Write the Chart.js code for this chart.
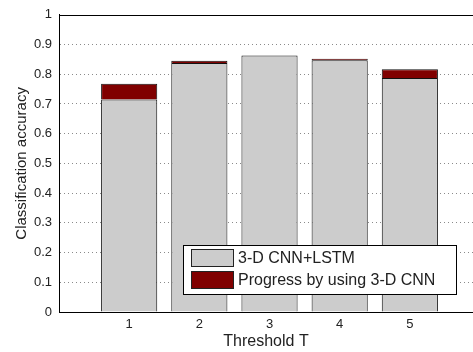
<!DOCTYPE html>
<html>
<head>
<meta charset="utf-8">
<script src="https://cdn.jsdelivr.net/npm/chart.js@4"></script>
<style>
html,body{margin:0;padding:0;background:#fff;}
#wrap{width:473px;height:352px;}
</style>
</head>
<body>
<div id="wrap"><canvas id="c" width="473" height="352"></canvas></div>
<script>
const thresholds = [1, 2, 3, 4, 5];
const baseAccuracy = [0.715, 0.838, 0.863, 0.847, 0.787];
const progress = [0.053, 0.007, 0, 0.005, 0.030];
const yTicks = [0, 0.1, 0.2, 0.3, 0.4, 0.5, 0.6, 0.7, 0.8, 0.9, 1];
const seriesLabels = ['3-D CNN+LSTM', 'Progress by using 3-D CNN'];
const seriesColors = ['#cccccc', '#800000'];

const FONT = '"Liberation Sans", Arial, Helvetica, sans-serif';

const frame = {
  id: 'frame',
  afterDraw(chart) {
    const ctx = chart.ctx, a = chart.chartArea;
    ctx.save();
    ctx.strokeStyle = '#000';
    ctx.lineWidth = 1;
    ctx.beginPath();
    ctx.moveTo(a.left, Math.round(a.top) + 0.5);
    ctx.lineTo(chart.width, Math.round(a.top) + 0.5);
    ctx.stroke();
    // legend
    const lx = 183.5, ly = 245.5, lw = 273, lh = 49;
    ctx.fillStyle = '#fff';
    ctx.fillRect(lx, ly, lw, lh);
    ctx.strokeRect(lx, ly, lw, lh);
    ctx.font = '16px ' + FONT;
    ctx.textBaseline = 'middle';
    ctx.textAlign = 'left';
    chart.data.datasets.forEach((ds, i) => {
      const sy = 249.5 + i * 22;
      ctx.fillStyle = ds.backgroundColor;
      ctx.fillRect(191.5, sy, 42, 17);
      ctx.strokeStyle = '#222';
      ctx.strokeRect(191.5, sy, 42, 17);
      ctx.fillStyle = '#222';
      ctx.fillText(ds.label, 238, sy + 9);
    });
    ctx.restore();
  }
};

new Chart(document.getElementById('c'), {
  type: 'bar',
  data: {
    datasets: [
      {
        label: seriesLabels[0],
        data: thresholds.map((t, i) => ({x: t, y: baseAccuracy[i]})),
        backgroundColor: seriesColors[0],
        borderColor: '#111',
        borderWidth: 1
      },
      {
        label: seriesLabels[1],
        data: thresholds.map((t, i) => ({x: t, y: progress[i]})),
        backgroundColor: seriesColors[1],
        borderColor: '#111',
        borderWidth: 1
      }
    ]
  },
  options: {
    responsive: false,
    animation: false,
    events: [],
    layout: {padding: {top: 11, left: 0, right: 0, bottom: 0}},
    datasets: {bar: {barPercentage: 1, categoryPercentage: 0.8}},
    plugins: {legend: {display: false}, tooltip: {enabled: false}},
    scales: {
      x: {
        type: 'linear',
        stacked: true,
        offset: false,
        min: 0,
        max: 5.9,
        afterBuildTicks(scale) { scale.ticks = thresholds.map(v => ({value: v})); },
        afterFit(scale) { scale.height = 40; },
        grid: {display: false, drawTicks: false, offset: false},
        border: {display: true, color: '#000', width: 1},
        ticks: {color: '#222', font: {family: FONT, size: 13}, padding: 5, maxRotation: 0,
          callback: v => String(v)},
        title: {display: true, text: 'Threshold T', color: '#222', font: {family: FONT, size: 16},
          padding: {top: 0, bottom: 1}}
      },
      y: {
        stacked: true,
        min: 0,
        max: 1,
        afterBuildTicks(scale) { scale.ticks = yTicks.map(v => ({value: v})); },
        afterFit(scale) { scale.width = 59; },
        grid: {
          drawTicks: false,
          color: ctx => (ctx.tick && (ctx.tick.value === 0 || ctx.tick.value === 1)) ? 'rgba(0,0,0,0)' : '#8a8a8a',
          lineWidth: 1
        },
        border: {display: true, color: '#000', width: 1, dash: [1, 3]},
        ticks: {color: '#222', font: {family: FONT, size: 13}, padding: 7,
          callback: v => (v === 0 ? '0' : v === 1 ? '1' : v.toFixed(1))},
        title: {display: true, text: 'Classification accuracy', color: '#222', font: {family: FONT, size: 15},
          padding: {top: 13, bottom: 0}}
      }
    }
  },
  plugins: [frame]
});
</script>
</body>
</html>
